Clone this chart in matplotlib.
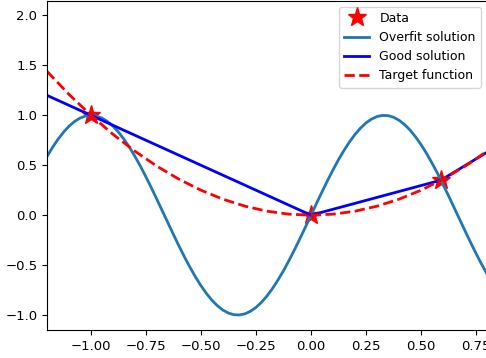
import numpy as np
import matplotlib
matplotlib.use('Agg')
import matplotlib.pyplot as plt

# data points
data_x = [-1.0, 0.0, 0.59]
data_y = [1.0, 0.0, 0.35]

# overfit solution, every 0.025
over_x = np.linspace(-1.2, 0.8, 81)
over_y = [0.588, 0.679, 0.760, 0.831, 0.891, 0.938, 0.972, 0.993, 1.000,
          0.993, 0.972, 0.938, 0.891, 0.831, 0.760, 0.679, 0.588, 0.489,
          0.383, 0.271, 0.156, 0.039, -0.078, -0.195, -0.309, -0.419, -0.522,
          -0.619, -0.707, -0.785, -0.853, -0.908, -0.951, -0.981, -0.997,
          -0.999, -0.988, -0.962, -0.924, -0.872, -0.809, -0.734, -0.649,
          -0.556, -0.454, -0.346, -0.233, -0.118, 0.000, 0.118, 0.233, 0.346,
          0.454, 0.556, 0.649, 0.734, 0.809, 0.872, 0.924, 0.962, 0.988,
          0.999, 0.997, 0.981, 0.951, 0.908, 0.853, 0.785, 0.707, 0.619,
          0.522, 0.419, 0.309, 0.195, 0.078, -0.039, -0.156, -0.271, -0.383,
          -0.489, -0.588]

# good solution (piecewise linear)
good_x = [-1.2, 0.0, 0.59, 0.8]
good_y = [1.2, 0.0, 0.35, 0.63]

# target function
targ_x = np.linspace(-1.2, 0.8, 21)
targ_y = [1.44, 1.21, 1.00, 0.81, 0.64, 0.49, 0.36, 0.25, 0.16, 0.09, 0.04,
          0.01, 0.00, 0.01, 0.04, 0.09, 0.16, 0.25, 0.36, 0.49, 0.64]

fig = plt.figure(figsize=(4.86, 3.58), dpi=100)
ax = fig.add_axes([47/486, 28/358, 440/486, 329.5/358])

ax.plot(data_x, data_y, 'r*', markersize=14, label='Data')
ax.plot(over_x, over_y, color='#1f77b4', linewidth=2, label='Overfit solution')
ax.plot(good_x, good_y, 'b', linewidth=2, label='Good solution')
ax.plot(targ_x, targ_y, 'r--', linewidth=2, label='Target function')

ax.set_xlim(-1.2, 0.8)
ax.set_ylim(-1.15, 2.15)
ax.set_xticks([-1.0, -0.75, -0.5, -0.25, 0.0, 0.25, 0.5, 0.75])
ax.set_yticks([-1.0, -0.5, 0.0, 0.5, 1.0, 1.5, 2.0])
ax.tick_params(labelsize=9.5)
ax.legend(loc='upper right', fontsize=9)

fig.savefig('out.png', dpi=100)
